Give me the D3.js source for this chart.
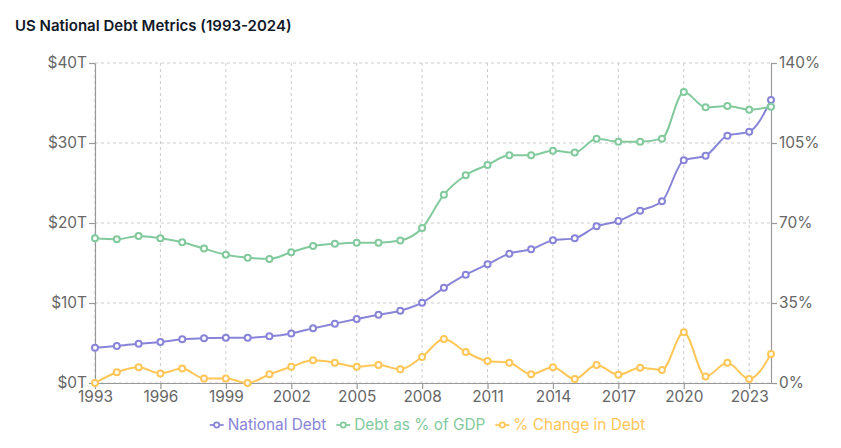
<!DOCTYPE html>
<html><head><meta charset="utf-8">
<script src="https://cdn.jsdelivr.net/npm/d3@7"></script>
<style>
body{margin:0;background:#fff;}
svg{font-family:Inter, "Liberation Sans", Arial, sans-serif;}
</style>
</head><body>
<svg id="c" width="841" height="448"></svg>
<script>
const years = [1993,1994,1995,1996,1997,1998,1999,2000,2001,2002,2003,2004,2005,2006,2007,2008,2009,2010,2011,2012,2013,2014,2015,2016,2017,2018,2019,2020,2021,2022,2023,2024];
const nationalDebt = [4.41,4.62,4.92,5.12,5.46,5.58,5.67,5.67,5.83,6.2,6.83,7.42,8.0,8.54,9.04,10.04,11.9,13.54,14.83,16.17,16.71,17.83,18.08,19.58,20.25,21.54,22.71,27.83,28.42,30.92,31.42,35.37];
const debtPctGDP = [63.3,62.9,64.3,63.3,61.6,58.8,56.1,54.8,54.3,57.2,59.9,60.9,61.4,61.4,62.3,67.8,82.4,90.9,95.4,99.6,99.6,101.6,100.8,106.9,105.6,105.6,106.9,127.3,120.6,121.2,119.6,120.9];
const pctChange = [0,4.7,6.9,4.2,6.3,2.0,2.0,0,3.8,7.1,9.9,8.9,7.1,7.9,6.0,11.4,19.2,13.6,9.6,8.9,3.8,6.9,1.75,7.9,3.6,6.7,5.7,22.2,2.8,8.9,1.75,12.7];
const leftTicks = [0,10,20,30,40];
const rightTicks = [0,35,70,105,140];
const xTicks = [1993,1996,1999,2002,2005,2008,2011,2014,2017,2020,2023];
const seriesNames = ["National Debt","Debt as % of GDP","% Change in Debt"];
const seriesColors = ["#8884d8","#82ca9d","#ffc658"];
const titleText = "US National Debt Metrics (1993-2024)";

const svg = d3.select("#c");
const L = 95, R = 771, T = 63, B = 383;
const x = d3.scaleLinear().domain([1993,2024]).range([L,R]);
const yL = d3.scaleLinear().domain([0,40]).range([B,T]);
const yR = d3.scaleLinear().domain([0,140]).range([B,T]);

svg.append("text").attr("x",15).attr("y",31).text(titleText)
  .attr("font-size",15).attr("font-weight",600).attr("fill","#111827");

// grid
const g = svg.append("g").attr("stroke","#ccc").attr("stroke-dasharray","3 3");
leftTicks.forEach(t=>g.append("line").attr("x1",L).attr("x2",R).attr("y1",yL(t)).attr("y2",yL(t)));
xTicks.forEach(t=>g.append("line").attr("x1",x(t)).attr("x2",x(t)).attr("y1",T).attr("y2",B));

function styleAxis(sel){
  sel.select(".domain").attr("stroke","#999").attr("stroke-width",1.2);
  sel.selectAll(".tick line").attr("stroke","#999").attr("stroke-width",1.2);
  sel.selectAll(".tick text").attr("fill","#666").attr("font-size",15.4);
  sel.attr("font-family",null);
}
svg.append("g").attr("transform",`translate(0,${B})`)
  .call(d3.axisBottom(x).tickValues(xTicks).tickFormat(d3.format("d")).tickSize(6).tickPadding(2).tickSizeOuter(0))
  .call(styleAxis);
svg.append("g").attr("transform",`translate(${L},0)`)
  .call(d3.axisLeft(yL).tickValues(leftTicks).tickFormat(d=>`$${d}T`).tickSize(6).tickPadding(2).tickSizeOuter(0))
  .call(styleAxis);
svg.append("g").attr("transform",`translate(${R},0)`)
  .call(d3.axisRight(yR).tickValues(rightTicks).tickFormat(d=>`${d}%`).tickSize(6).tickPadding(2).tickSizeOuter(0))
  .call(styleAxis);

const series = [
  {vals:nationalDebt, y:yL},
  {vals:debtPctGDP, y:yR},
  {vals:pctChange, y:yR}
];
series.forEach((s,i)=>{
  const data = years.map((yr,j)=>[yr,s.vals[j]]);
  const line = d3.line().x(d=>x(d[0])).y(d=>s.y(d[1])).curve(d3.curveMonotoneX);
  svg.append("path").datum(data).attr("d",line).attr("fill","none")
    .attr("stroke",seriesColors[i]).attr("stroke-width",2);
  svg.append("g").selectAll("circle").data(data).join("circle")
    .attr("cx",d=>x(d[0])).attr("cy",d=>s.y(d[1])).attr("r",3)
    .attr("fill","#fff").attr("stroke",seriesColors[i]).attr("stroke-width",2);
});

// legend
const lg = svg.append("g");
let items = [];
seriesNames.forEach((n,i)=>{
  const it = lg.append("g");
  it.append("line").attr("x1",0).attr("x2",14).attr("y1",0).attr("y2",0)
    .attr("stroke",seriesColors[i]).attr("stroke-width",1.75);
  it.append("circle").attr("cx",7).attr("cy",0).attr("r",2.6)
    .attr("fill","#fff").attr("stroke",seriesColors[i]).attr("stroke-width",1.75);
  const t = it.append("text").attr("x",18).attr("y",0).attr("dy","0.35em")
    .attr("font-size",15.4).attr("fill",seriesColors[i]).text(n);
  items.push({it, w:18 + t.node().getComputedTextLength()});
});
const total = items.reduce((a,b)=>a+b.w,0) + 10*(items.length-1);
let cx = 427.5 - total/2;
items.forEach(o=>{o.it.attr("transform",`translate(${cx},425)`); cx += o.w + 10;});
</script>
</body></html>
